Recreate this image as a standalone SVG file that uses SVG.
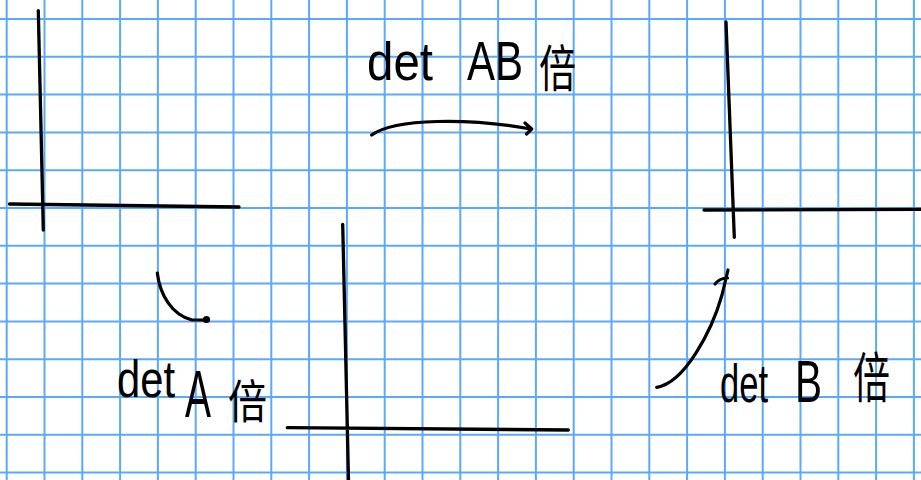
<svg xmlns="http://www.w3.org/2000/svg" width="921" height="480" viewBox="0 0 921 480">
<style>
.grid{stroke:#5aa9ff;stroke-width:2;fill:none}
.ax{stroke:#000;stroke-width:3.3;stroke-linecap:round;fill:none}
.ar{stroke:#000;stroke-width:3.2;stroke-linecap:round;stroke-linejoin:round;fill:none}
.t{font-family:"Liberation Sans","Noto Sans CJK SC",sans-serif;fill:#000}
</style>
<rect width="921" height="480" fill="#fff"/>
<path class="grid" d="M6.7,0V480M44.5,0V480M82.3,0V480M120.1,0V480M157.9,0V480M195.7,0V480M233.5,0V480M271.3,0V480M309.1,0V480M346.9,0V480M384.7,0V480M422.5,0V480M460.3,0V480M498.1,0V480M535.9,0V480M573.7,0V480M611.5,0V480M649.3,0V480M687.1,0V480M724.9,0V480M762.7,0V480M800.5,0V480M838.3,0V480M876.1,0V480M913.9,0V480M0,19H921M0,56.8H921M0,94.6H921M0,132.4H921M0,170.2H921M0,208H921M0,245.8H921M0,283.6H921M0,321.4H921M0,359.2H921M0,397H921M0,434.8H921M0,472.6H921"/>
<g id="axes-original">
<path class="ax" d="M38.3,10.7L43.3,230M9.5,204L239,207"/>
</g>
<g id="axes-A">
<path class="ax" d="M342.7,224.3L348.5,480M287.3,427.7L568.3,430"/>
</g>
<g id="axes-AB">
<path class="ax" d="M726,22L734.3,237.3M704,210L921,209.3"/>
</g>
<g id="label-AB">
<text class="t" x="367" y="80" font-size="54" textLength="66" lengthAdjust="spacingAndGlyphs">det</text>
<text class="t" x="467" y="80" font-size="56" textLength="56" lengthAdjust="spacingAndGlyphs">AB</text>
<text class="t" x="539" y="87" font-size="50" textLength="37" lengthAdjust="spacingAndGlyphs">倍</text>
</g>
<g id="label-A">
<text class="t" x="117" y="397" font-size="52" textLength="58" lengthAdjust="spacingAndGlyphs">det</text>
<text class="t" x="185" y="417" font-size="66" textLength="26" lengthAdjust="spacingAndGlyphs">A</text>
<text class="t" x="228" y="418" font-size="46" textLength="39" lengthAdjust="spacingAndGlyphs">倍</text>
</g>
<g id="label-B">
<text class="t" x="720" y="402" font-size="54" textLength="48" lengthAdjust="spacingAndGlyphs">det</text>
<text class="t" x="795" y="402" font-size="60" textLength="27" lengthAdjust="spacingAndGlyphs">B</text>
<text class="t" x="853" y="398" font-size="54" textLength="37" lengthAdjust="spacingAndGlyphs">倍</text>
</g>
<g id="connectors">
<path class="ar" d="M371.7,135C395,118 470,118 531,129M525,123L531.7,129L526.5,134"/>
<path class="ar" d="M157.3,273C160,295 172,315 192,320L206,320"/>
<circle cx="206.5" cy="319.5" r="3.6" fill="#000"/>
<path class="ar" d="M656.7,387.3C685,383 712,330 722,295L728,270M715,284C719,279 724,278 727.5,278"/>
</g>
</svg>
